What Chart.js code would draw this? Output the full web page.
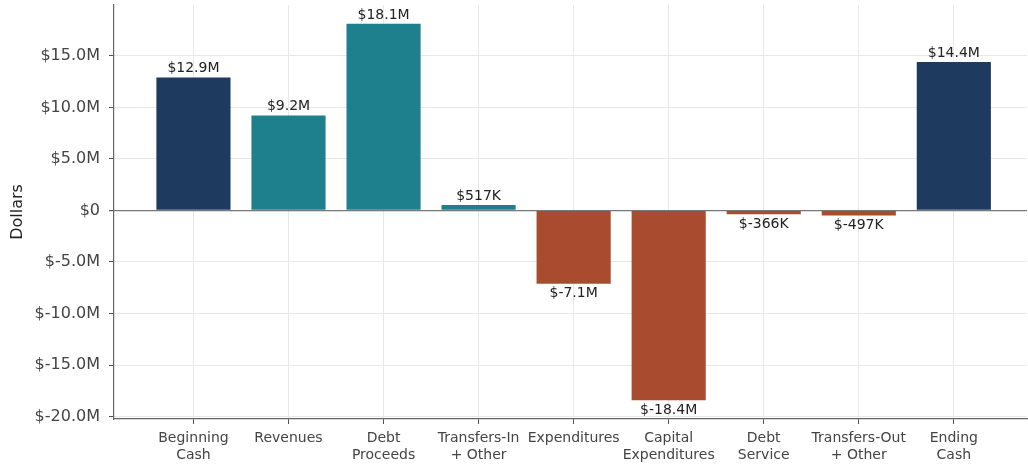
<!DOCTYPE html>
<html>
<head>
<meta charset="utf-8">
<script src="https://cdn.jsdelivr.net/npm/chart.js@4/dist/chart.umd.min.js"></script>
<style>
  html, body { margin: 0; padding: 0; background: #fff; }
  #wrap { width: 1028px; height: 467px; position: relative; }
</style>
</head>
<body>
<div id="wrap"><canvas id="waterfall"></canvas></div>
<script>
// chart data
const categories = [
  ['Beginning', 'Cash'], ['Revenues'], ['Debt', 'Proceeds'], ['Transfers-In', '+ Other'],
  ['Expenditures'], ['Capital', 'Expenditures'], ['Debt', 'Service'], ['Transfers-Out', '+ Other'],
  ['Ending', 'Cash']
];
const amounts = [12.9e6, 9.2e6, 18.1e6, 517e3, -7.1e6, -18.4e6, -366e3, -497e3, 14.4e6];
const barKinds = ['cash', 'in', 'in', 'in', 'out', 'out', 'out', 'out', 'cash'];
const yTicks = [-20e6, -15e6, -10e6, -5e6, 0, 5e6, 10e6, 15e6];

const kindColors = { cash: '#1f3a5f', in: '#1f808d', out: '#a84b2f' };

Chart.defaults.font.family = "'DejaVu Sans', sans-serif";
Chart.defaults.color = '#444';

function money(v) {
  if (Math.abs(v) >= 1e6) return '$' + (v / 1e6).toFixed(1) + 'M';
  return '$' + Math.round(v / 1e3) + 'K';
}

// value labels above / below each bar
const barLabels = {
  id: 'barLabels',
  afterDatasetsDraw(chart) {
    const ctx = chart.ctx;
    const meta = chart.getDatasetMeta(0);
    ctx.save();
    ctx.font = "14px 'DejaVu Sans'";
    ctx.fillStyle = '#222';
    ctx.textAlign = 'center';
    meta.data.forEach((bar, i) => {
      const v = amounts[i];
      if (v >= 0) {
        ctx.textBaseline = 'bottom';
        ctx.fillText(money(v), bar.x, bar.y - 2);
      } else {
        ctx.textBaseline = 'top';
        ctx.fillText(money(v), bar.x, bar.y + 3);
      }
    });
    ctx.restore();
  }
};

const ctx = document.getElementById('waterfall').getContext('2d');

new Chart(ctx, {
  type: 'bar',
  data: {
    datasets: [{
      data: amounts.map((v, i) => ({ x: i, y: v })),
      backgroundColor: barKinds.map(k => kindColors[k]),
      borderWidth: 0,
      barPercentage: 0.78,
      categoryPercentage: 1
    }]
  },
  options: {
    responsive: true,
    maintainAspectRatio: false,
    animation: false,
    layout: { padding: { top: 5, right: 1, left: 0, bottom: 0 } },
    plugins: {
      legend: { display: false },
      tooltip: { enabled: false }
    },
    scales: {
      x: {
        type: 'linear',
        offset: false,
        min: -0.836,
        max: 8.77,
        afterBuildTicks: scale => { scale.ticks = categories.map((_, i) => ({ value: i })); },
        afterFit: scale => { scale.height = 48; scale.paddingLeft = 0; scale.paddingRight = 0; },
        ticks: {
          callback: v => categories[v],
          font: { size: 14 },
          color: '#444',
          padding: 6,
          maxRotation: 0,
          autoSkip: false
        },
        grid: { offset: false, color: '#e8e8e8', tickColor: '#555', tickLength: 5 },
        border: { color: '#666', width: 1.2 }
      },
      y: {
        min: -20.23e6,
        max: 19.93e6,
        afterBuildTicks: scale => { scale.ticks = yTicks.map(v => ({ value: v })); },
        afterFit: scale => { scale.width = 114; scale.paddingTop = 0; scale.paddingBottom = 0; },
        ticks: {
          callback: v => v === 0 ? '$0' : money(v),
          font: { size: 16 },
          color: '#444',
          padding: 9
        },
        grid: {
          color: c => (c.tick && c.tick.value === 0) ? '#777' : '#e8e8e8',
          lineWidth: c => (c.tick && c.tick.value === 0) ? 1.2 : 1,
          tickColor: '#555',
          tickLength: 5
        },
        border: { color: '#666', width: 1.2 },
        title: {
          display: true,
          text: 'Dollars',
          font: { size: 16 },
          color: '#222',
          padding: { top: 8, bottom: 0 }
        }
      }
    }
  },
  plugins: [barLabels]
});
</script>
</body>
</html>
